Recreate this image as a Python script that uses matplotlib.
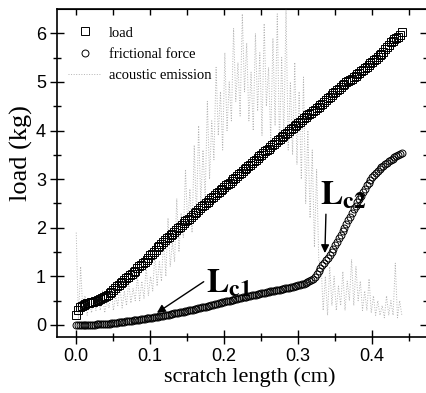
import matplotlib
matplotlib.use('Agg')
import matplotlib.pyplot as plt
import numpy as np

# scratch position grid for load / friction (cm), 0.0025 cm sampling
scratch_x = np.round(np.arange(0, 0.44001, 0.0025), 4)

load = [0.20, 0.30, 0.38, 0.40, 0.42, 0.44, 0.45, 0.46, 0.47, 0.48,
        0.49, 0.50, 0.52, 0.53, 0.55, 0.57, 0.60, 0.62, 0.65, 0.68,
        0.72, 0.76, 0.80, 0.83, 0.86, 0.89, 0.93, 0.96, 0.99, 1.02,
        1.05, 1.08, 1.12, 1.17, 1.21, 1.24, 1.27, 1.30, 1.34, 1.38,
        1.43, 1.46, 1.50, 1.55, 1.60, 1.63, 1.67, 1.70, 1.74, 1.78,
        1.82, 1.85, 1.88, 1.92, 1.96, 1.99, 2.02, 2.06, 2.10, 2.13,
        2.16, 2.19, 2.22, 2.26, 2.30, 2.33, 2.37, 2.40, 2.44, 2.47,
        2.50, 2.54, 2.58, 2.61, 2.64, 2.67, 2.71, 2.74, 2.77, 2.80,
        2.84, 2.87, 2.90, 2.93, 2.97, 3.00, 3.03, 3.06, 3.10, 3.13,
        3.17, 3.20, 3.24, 3.27, 3.30, 3.33, 3.37, 3.40, 3.44, 3.47,
        3.50, 3.53, 3.57, 3.60, 3.63, 3.66, 3.70, 3.73, 3.77, 3.80,
        3.83, 3.86, 3.89, 3.92, 3.96, 3.99, 4.03, 4.06, 4.09, 4.12,
        4.15, 4.18, 4.22, 4.25, 4.28, 4.31, 4.35, 4.37, 4.40, 4.43,
        4.46, 4.49, 4.52, 4.55, 4.58, 4.62, 4.66, 4.70, 4.73, 4.77,
        4.80, 4.83, 4.86, 4.89, 4.93, 4.96, 4.99, 5.01, 5.04, 5.07,
        5.10, 5.13, 5.16, 5.19, 5.22, 5.25, 5.28, 5.31, 5.35, 5.38,
        5.42, 5.45, 5.48, 5.51, 5.55, 5.58, 5.62, 5.67, 5.72, 5.77,
        5.82, 5.85, 5.88, 5.90, 5.92, 5.97, 6.02]

friction = [0.00, 0.00, 0.00, 0.00, 0.00, 0.01, 0.01, 0.01, 0.01, 0.01,
            0.01, 0.02, 0.02, 0.02, 0.02, 0.03, 0.03, 0.03, 0.03, 0.04,
            0.04, 0.05, 0.05, 0.06, 0.06, 0.07, 0.07, 0.08, 0.08, 0.09,
            0.09, 0.10, 0.10, 0.11, 0.11, 0.12, 0.12, 0.13, 0.14, 0.14,
            0.15, 0.15, 0.16, 0.17, 0.17, 0.18, 0.19, 0.19, 0.20, 0.21,
            0.21, 0.22, 0.23, 0.24, 0.24, 0.25, 0.26, 0.27, 0.27, 0.28,
            0.29, 0.30, 0.30, 0.31, 0.32, 0.33, 0.34, 0.35, 0.36, 0.37,
            0.38, 0.39, 0.40, 0.41, 0.42, 0.43, 0.44, 0.45, 0.46, 0.47,
            0.48, 0.49, 0.50, 0.50, 0.51, 0.52, 0.53, 0.54, 0.55, 0.56,
            0.57, 0.57, 0.58, 0.59, 0.60, 0.61, 0.62, 0.62, 0.63, 0.64,
            0.65, 0.65, 0.66, 0.67, 0.68, 0.69, 0.70, 0.70, 0.71, 0.72,
            0.73, 0.74, 0.75, 0.76, 0.77, 0.77, 0.78, 0.79, 0.80, 0.81,
            0.82, 0.83, 0.84, 0.85, 0.87, 0.88, 0.90, 0.92, 0.95, 0.99,
            1.05, 1.11, 1.18, 1.23, 1.28, 1.33, 1.38, 1.44, 1.50, 1.57,
            1.64, 1.71, 1.78, 1.85, 1.93, 2.00, 2.08, 2.15, 2.23, 2.30,
            2.38, 2.45, 2.52, 2.59, 2.66, 2.73, 2.80, 2.87, 2.93, 2.99,
            3.04, 3.09, 3.13, 3.17, 3.21, 3.25, 3.28, 3.31, 3.34, 3.37,
            3.40, 3.42, 3.45, 3.48, 3.50, 3.52, 3.53]

# acoustic emission signal (arbitrary units, plotted on the same scale)
acoustic = [1.9, 0.1, 1.2, 0.3, 0.6, 0.2, 0.5, 0.25, 0.55, 0.3,
            0.6, 0.3, 0.7, 0.25, 0.5, 0.35, 0.75, 0.3, 0.6, 0.4,
            0.8, 0.35, 0.7, 0.4, 0.9, 0.45, 0.75, 0.5, 1.0, 0.5,
            0.9, 0.55, 1.2, 0.6, 1.0, 0.7, 1.5, 0.8, 1.3, 0.9,
            1.8, 1.0, 2.2, 1.2, 1.7, 1.3, 2.6, 1.5, 2.3, 1.8,
            3.2, 2.0, 2.8, 1.9, 3.7, 2.2, 4.1, 2.5, 3.6, 2.6,
            4.6, 3.0, 4.2, 3.4, 5.3, 3.9, 4.8, 3.6, 5.6, 4.0,
            5.0, 4.2, 6.1, 4.6, 5.4, 4.3, 6.4, 4.8, 5.8, 4.2,
            5.2, 4.0, 6.0, 4.4, 5.6, 3.9, 6.2, 4.5, 5.3, 3.8,
            5.9, 4.1, 6.4, 3.7, 5.5, 3.9, 6.5, 3.6, 5.0, 3.5,
            5.4, 3.3, 4.8, 3.0, 5.1, 2.5, 4.0, 2.2, 3.6, 1.6,
            3.2, 1.3, 1.3, 0.3, 1.0, 0.2, 1.2, 0.4, 1.0, 0.3,
            0.8, 0.4, 1.1, 0.3, 0.9, 0.5, 1.35, 0.4, 1.2, 0.5,
            0.9, 0.3, 0.7, 0.3, 0.95, 0.25, 0.6, 0.2, 0.5, 0.2,
            0.4, 0.15, 0.6, 0.2, 0.5, 0.2, 1.27, 0.15, 0.5, 0.2]
acoustic_x = np.linspace(0, 0.44, len(acoustic))

plt.rcParams['font.family'] = 'Liberation Sans'
plt.rcParams['mathtext.fontset'] = 'stix'

fig = plt.figure(figsize=(4.27, 3.93), dpi=100)
ax = fig.add_axes([0.1335, 0.1425, 0.8665, 0.8345])

ax.plot(acoustic_x, acoustic, ls=':', color='#b4b4b4', lw=0.7, zorder=1,
        label='acoustic emission')
ax.plot(scratch_x, load, ls='none', marker='s', ms=5.2, mfc='none',
        mec='k', mew=0.7, zorder=3, label='load')
ax.plot(scratch_x, friction, ls='none', marker='o', ms=5, mfc='none',
        mec='k', mew=0.7, zorder=3, label='frictional force')

ax.set_xlim(-0.026, 0.474)
ax.set_ylim(-0.247, 6.5)
ax.set_xticks([0.0, 0.1, 0.2, 0.3, 0.4])
ax.set_xticklabels(['0.0', '0.1', '0.2', '0.3', '0.4'])
ax.set_xticks(np.arange(0.05, 0.46, 0.1), minor=True)
ax.set_yticks(range(7))
ax.set_yticks(np.arange(0.5, 6.5, 1.0), minor=True)
ax.tick_params(which='major', direction='inout', length=10, width=1,
               labelsize=13, pad=3)
ax.tick_params(which='minor', direction='inout', length=6, width=1)

top = ax.secondary_xaxis('top')
top.set_xticks([0.0, 0.1, 0.2, 0.3, 0.4])
top.set_xticks(np.arange(0.05, 0.46, 0.1), minor=True)
top.tick_params(which='both', direction='in', length=4, width=1,
                labeltop=False)
right = ax.secondary_yaxis('right')
right.set_yticks(range(7))
right.set_yticks(np.arange(0.5, 6.5, 1.0), minor=True)
right.tick_params(which='major', direction='in', length=5, width=1,
                  labelright=False)
right.tick_params(which='minor', direction='in', length=3, width=1)

for s in ax.spines.values():
    s.set_linewidth(1.2)

ax.set_xlabel('scratch length (cm)', family='Liberation Serif',
              fontsize=16)
ax.xaxis.set_label_coords(0.52, -0.093)
ax.set_ylabel('load (kg)', family='Liberation Serif', fontsize=19)
ax.yaxis.set_label_coords(-0.066, 0.56)

h, l = ax.get_legend_handles_labels()
ax.legend([h[1], h[2], h[0]], [l[1], l[2], l[0]], loc='upper left',
          frameon=False, prop={'family': 'Liberation Serif', 'size': 10.5},
          labelspacing=0.55, handlelength=2.3, handletextpad=0.5,
          borderaxespad=0, bbox_to_anchor=(0.0135, 0.965))

ax.annotate(r'$\mathbf{L_{c1}}$', xy=(0.109, 0.25), xytext=(0.176, 0.68),
            fontsize=24, ha='left', va='baseline',
            arrowprops=dict(arrowstyle='-|>', color='k', lw=1,
                            mutation_scale=12, shrinkA=0, shrinkB=0,
                            relpos=(0, 0.6)))
ax.annotate(r'$\mathbf{L_{c2}}$', xy=(0.336, 1.48), xytext=(0.33, 2.48),
            fontsize=24, ha='left', va='baseline',
            arrowprops=dict(arrowstyle='-|>', color='k', lw=1,
                            mutation_scale=12, shrinkA=0, shrinkB=0,
                            relpos=(0.12, 0)))

plt.savefig('out.png', dpi=100)
